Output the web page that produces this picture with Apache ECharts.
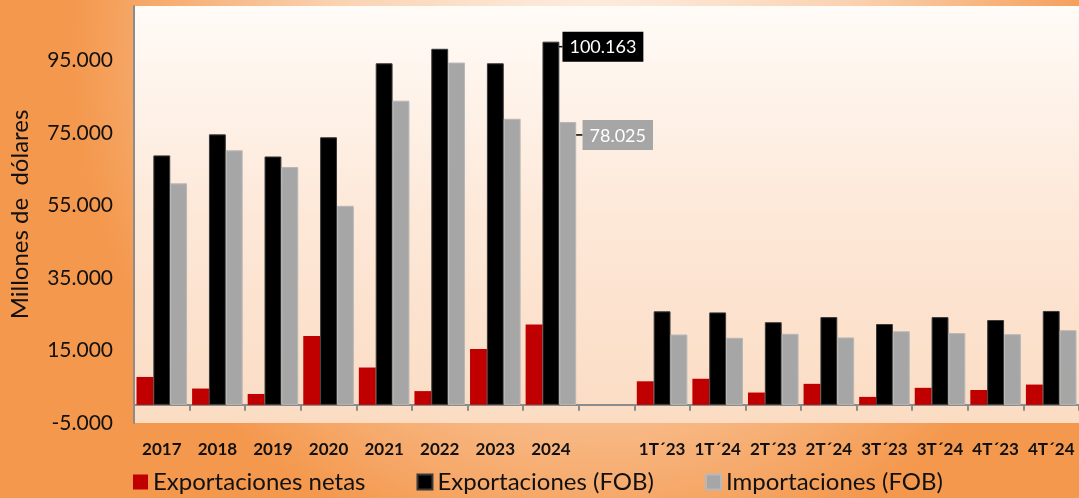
<!DOCTYPE html>
<html>
<head>
<meta charset="utf-8">
<script src="https://cdn.jsdelivr.net/npm/echarts@6/dist/echarts.min.js"></script>
<style>
html, body { margin: 0; padding: 0; }
#chart { width: 1079px; height: 498px; }
</style>
</head>
<body>
<div id="chart"></div>
<script>
var categories = ['2017', '2018', '2019', '2020', '2021', '2022', '2023', '2024', '',
	'1T´23', '1T´24', '2T´23', '2T´24', '3T´23', '3T´24', '4T´23', '4T´24'];
var netas = [7700, 4500, 3000, 19000, 10300, 3800, 15400, 22138, null,
	6500, 7200, 3400, 5800, 2200, 4700, 4100, 5600];
var exportaciones = [68800, 74600, 68500, 73800, 94200, 98200, 94200, 100163, null,
	25800, 25500, 22800, 24200, 22300, 24200, 23400, 25900];
var importaciones = [61100, 70200, 65600, 54900, 83900, 94400, 78900, 78025, null,
	19400, 18500, 19600, 18600, 20300, 19800, 19500, 20600];
var yLabels = ['-5.000', '15.000', '35.000', '55.000', '75.000', '95.000'];

var fontMain = 'Lato, "Open Sans", sans-serif';
var labelIdx = 7; // solo 2024 lleva etiqueta

function fmtNum(v) {
	var s = String(Math.abs(v)).replace(/\B(?=(\d{3})+(?!\d))/g, '.');
	return v < 0 ? '-' + s : s;
}

function withLabel(arr, bg) {
	return arr.map(function(v, i) {
		if (i !== labelIdx) return v;
		return {
			value : v,
			label : {
				show : true,
				position : 'top',
				formatter : function(p) {
					return fmtNum(p.value);
				},
				backgroundColor : bg,
				color : '#fff',
				fontFamily : fontMain,
				fontSize : 18,
				padding : [ 7, 7, 5, 7 ]
			}
		};
	});
}

var chart = echarts.init(document.getElementById('chart'));

var option = {
	backgroundColor : {
		type : 'radial',
		x : 0.55,
		y : 0.1,
		r : 1.05,
		colorStops : [ {
			offset : 0,
			color : '#fdefe4'
		}, {
			offset : 0.5,
			color : '#fad2b1'
		}, {
			offset : 1,
			color : '#f4984d'
		} ]
	},
	animation : false,
	grid : {
		left : 130,
		right : 0,
		top : 6,
		bottom : 75,
		show : true,
		borderWidth : 0,
		backgroundColor : {
			type : 'linear',
			x : 0, y : 0, x2 : 0, y2 : 1,
			colorStops : [ {
				offset : 0,
				color : '#fffbf7'
			}, {
				offset : 0.5,
				color : '#fde8d8'
			}, {
				offset : 1,
				color : '#fbdcc3'
			} ]
		}
	},
	legend : {
		left : 133,
		top : 470,
		padding : 0,
		itemWidth : 15,
		itemHeight : 15,
		itemGap : 51,
		icon : 'rect',
		textStyle : {
			fontFamily : fontMain,
			fontSize : 24,
			color : '#111'
		},
		data : [ 'Exportaciones netas', 'Exportaciones (FOB)', 'Importaciones (FOB)' ]
	},
	xAxis : {
		type : 'category',
		data : categories,
		axisLine : {
			onZero : true,
			lineStyle : {
				color : '#8c8c8c',
				width : 2
			}
		},
		axisTick : {
			show : true,
			interval : 0,
			length : 6,
			lineStyle : {
				color : '#8c8c8c',
				width : 2
			}
		},
		axisLabel : {
			interval : 0,
			margin : 18,
			fontFamily : fontMain,
			fontWeight : 'bold',
			fontSize : 17,
			color : '#111'
		}
	},
	yAxis : {
		type : 'value',
		min : -5000,
		max : 110000,
		interval : 5000,
		name : 'Millones de  dólares',
		nameLocation : 'middle',
		nameGap : 102,
		nameTextStyle : {
			fontFamily : fontMain,
			fontSize : 24,
			color : '#111'
		},
		splitLine : {
			show : false
		},
		axisLine : {
			show : true,
			lineStyle : {
				color : '#8c8c8c',
				width : 2
			}
		},
		axisTick : {
			show : false
		},
		axisLabel : {
			margin : 21,
			fontFamily : fontMain,
			fontSize : 21,
			color : '#111',
			formatter : function(v) {
				var s = fmtNum(v);
				return yLabels.indexOf(s) >= 0 ? s : '';
			}
		}
	},
	series : [ {
		name : 'Exportaciones netas',
		type : 'bar',
		barGap : '0%',
		barCategoryGap : '9%',
		itemStyle : {
			color : '#c00000'
		},
		data : netas
	}, {
		name : 'Exportaciones (FOB)',
		type : 'bar',
		barGap : '0%',
		barCategoryGap : '9%',
		itemStyle : {
			color : '#000000',
			borderColor : '#3a3a3a',
			borderWidth : 1
		},
		labelLine : {
			show : true,
			lineStyle : {
				color : '#000',
				width : 1.5
			}
		},
		labelLayout : {
			dx : 52,
			dy : 25
		},
		data : withLabel(exportaciones, '#000')
	}, {
		name : 'Importaciones (FOB)',
		type : 'bar',
		barGap : '0%',
		barCategoryGap : '9%',
		itemStyle : {
			color : '#a6a6a6',
			borderColor : '#b8b8b8',
			borderWidth : 1
		},
		labelLine : {
			show : true,
			lineStyle : {
				color : '#000',
				width : 1.5
			}
		},
		labelLayout : {
			dx : 50,
			dy : 33
		},
		data : withLabel(importaciones, '#a6a6a6')
	} ]
};

chart.setOption(option);
</script>
</body>
</html>
